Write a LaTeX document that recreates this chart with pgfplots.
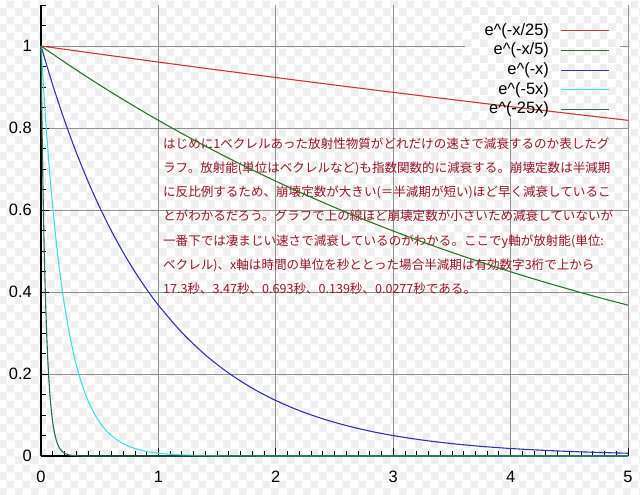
\documentclass[border=0pt]{standalone}
\usepackage{fontspec}
\setmainfont{Liberation Sans}
\newfontfamily\cjk{Noto Sans CJK JP}
\usepackage{pgfplots}
\pgfplotsset{compat=1.18}
\usetikzlibrary{patterns}
\definecolor{bgsq}{RGB}{238,238,238}
\definecolor{cred}{RGB}{200,56,56}
\definecolor{cgreen}{RGB}{40,120,40}
\definecolor{cblue}{RGB}{50,50,170}
\definecolor{ccyan}{RGB}{64,224,224}
\definecolor{cteal}{RGB}{40,110,80}
\definecolor{ctext}{RGB}{150,22,40}
\definecolor{cgrid}{RGB}{145,145,145}
\pgfdeclarepatternformonly{checker}{\pgfpoint{0bp}{0bp}}{\pgfpoint{16bp}{16bp}}{\pgfpoint{16bp}{16bp}}{%
  \pgfpathrectangle{\pgfpoint{0bp}{0bp}}{\pgfpoint{8bp}{8bp}}%
  \pgfpathrectangle{\pgfpoint{8bp}{8bp}}{\pgfpoint{8bp}{8bp}}%
  \pgfusepath{fill}}
\begin{document}
\begin{tikzpicture}
\fill[white] (-41bp,-39bp) rectangle (599bp,456bp);
\fill[pattern=checker, pattern color=bgsq] (-41bp,-39bp) rectangle (599bp,456bp);
\begin{axis}[
  at={(0,0)}, anchor=south west,
  scale only axis, width=587bp, height=451bp,
  xmin=0, xmax=5, ymin=0, ymax=1.1,
  enlargelimits=false, clip=false,
  axis lines=left, axis line style={-, black, line width=1.3bp},
  xtick={0,1,2,3,4,5},
  ytick={0,0.2,0.4,0.6,0.8,1},
  minor xtick={0,0.1,...,5.05},
  minor ytick={0,0.05,...,1.12},
  grid=major,
  major grid style={cgrid, line width=0.9bp},
  minor grid style={draw=none},
  tick align=inside,
  major tick length=8bp, minor tick length=5bp,
  every tick/.style={black, line width=0.8bp},
  tick label style={font=\fontsize{16.5}{18}\selectfont},
  /pgf/number format/assume math mode=true,
  xticklabel style={anchor=north, inner sep=0pt, yshift=-14.7bp},
  yticklabel style={anchor=east, inner sep=0pt, xshift=-9bp},
  legend plot pos=right,
  legend cell align=right,
  legend image code/.code={\draw[#1] (0bp,0bp) -- (48bp,0bp);},
  legend style={at={(axis cs:4.847,1.056)}, anchor=north east,
    draw=none, fill=none, inner sep=0pt, outer sep=0pt,
    font=\fontsize{16.5}{18}\selectfont,
    nodes={inner sep=0pt, text height=12bp, text depth=3.5bp},
    row sep=4.2bp, /tikz/column sep=12bp},
  every axis plot/.append style={line width=1.1bp, no markers},
]
\fill[white] (axis cs:3.612,0.825) rectangle (axis cs:4.932,1.1);
\fill[pattern=checker, pattern color=bgsq] (axis cs:3.612,0.825) rectangle (axis cs:4.932,1.1);
\begin{scope}[every node/.style={anchor=base west, inner sep=0pt, text=ctext, font=\cjk\fontsize{12.6}{14}\selectfont}]
\node at (axis cs:1.039,0.7512) {はじめに1ベクレルあった放射性物質がどれだけの速さで減衰するのか表したグ};
\node at (axis cs:1.039,0.6919) {ラフ。放射能(単位はベクレルなど)も指数関数的に減衰する。崩壊定数は半減期};
\node at (axis cs:1.039,0.6325) {に反比例するため、崩壊定数が大きい(＝半減期が短い)ほど早く減衰しているこ};
\node at (axis cs:1.039,0.5732) {とがわかるだろう。グラフで上の線ほど崩壊定数が小さいため減衰していないが};
\node at (axis cs:1.039,0.5139) {一番下では凄まじい速さで減衰しているのがわかる。ここでy軸が放射能(単位:};
\node at (axis cs:1.039,0.4545) {ベクレル)、x軸は時間の単位を秒ととった場合半減期は有効数字3桁で上から};
\node at (axis cs:1.039,0.3952) {17.3秒、3.47秒、0.693秒、0.139秒、0.0277秒である。};
\end{scope}

\addplot[cred] coordinates {(0,1) (0.5,0.9802) (1,0.9608) (1.5,0.9418) (2,0.9231) (2.5,0.9048) (3,0.8869) (3.5,0.8694) (4,0.8521) (4.5,0.8353) (5,0.8187)};
\addlegendentry{e\textasciicircum(-x/25)}

\addplot[cgreen, smooth] coordinates {(0,1) (0.25,0.9512) (0.5,0.9048) (0.75,0.8607) (1,0.8187) (1.25,0.7788) (1.5,0.7408) (1.75,0.7047) (2,0.6703) (2.25,0.6376) (2.5,0.6065) (2.75,0.5769) (3,0.5488) (3.25,0.5220) (3.5,0.4966) (3.75,0.4724) (4,0.4493) (4.25,0.4274) (4.5,0.4066) (4.75,0.3867) (5,0.3679)};
\addlegendentry{e\textasciicircum(-x/5)}

\addplot[cblue, smooth] coordinates {(0,1) (0.1,0.9048) (0.2,0.8187) (0.3,0.7408) (0.4,0.6703) (0.5,0.6065) (0.6,0.5488) (0.7,0.4966) (0.8,0.4493) (0.9,0.4066) (1,0.3679) (1.2,0.3012) (1.4,0.2466) (1.6,0.2019) (1.8,0.1653) (2,0.1353) (2.2,0.1108) (2.4,0.0907) (2.6,0.0743) (2.8,0.0608) (3,0.0498) (3.25,0.0388) (3.5,0.0302) (3.75,0.0235) (4,0.0183) (4.25,0.0143) (4.5,0.0111) (4.75,0.0087) (5,0.0067)};
\addlegendentry{e\textasciicircum(-x)}

\addplot[ccyan, smooth] coordinates {(0,1) (0.02,0.9048) (0.04,0.8187) (0.06,0.7408) (0.08,0.6703) (0.1,0.6065) (0.12,0.5488) (0.14,0.4966) (0.16,0.4493) (0.18,0.4066) (0.2,0.3679) (0.25,0.2865) (0.3,0.2231) (0.35,0.1738) (0.4,0.1353) (0.45,0.1054) (0.5,0.0821) (0.55,0.0639) (0.6,0.0498) (0.65,0.0388) (0.7,0.0302) (0.75,0.0235) (0.8,0.0183) (0.9,0.0111) (1,0.0067) (1.2,0.0025) (1.5,0.00055) (2,0.00005) (3,0) (5,0)};
\addlegendentry{e\textasciicircum(-5x)}

\addplot[cteal, smooth] coordinates {(0,1) (0.004,0.9048) (0.008,0.8187) (0.012,0.7408) (0.016,0.6703) (0.02,0.6065) (0.024,0.5488) (0.028,0.4966) (0.032,0.4493) (0.036,0.4066) (0.04,0.3679) (0.05,0.2865) (0.06,0.2231) (0.07,0.1738) (0.08,0.1353) (0.09,0.1054) (0.1,0.0821) (0.11,0.0639) (0.12,0.0498) (0.13,0.0388) (0.14,0.0302) (0.15,0.0235) (0.16,0.0183) (0.18,0.0111) (0.2,0.0067) (0.24,0.0025) (0.3,0.00055) (0.4,0.00005) (1,0) (5,0)};
\addlegendentry{e\textasciicircum(-25x)}
\end{axis}
\pgfresetboundingbox
\useasboundingbox (-41bp,-39bp) rectangle (599bp,456bp);
\end{tikzpicture}
\end{document}
